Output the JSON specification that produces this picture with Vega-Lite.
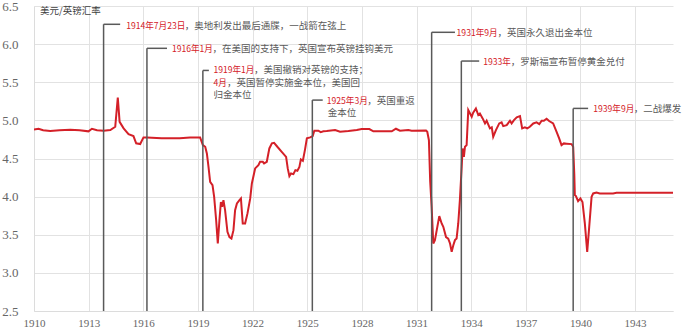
{
  "$schema": "https://vega.github.io/schema/vega-lite/v6.json",
  "width": 639,
  "height": 305,
  "autosize": {"type": "none"},
  "padding": {"left": 34, "top": 6, "right": 19, "bottom": 19},
  "background": "white",
  "config": {
    "view": {"stroke": null},
    "axis": {
      "labelOverlap": false, "labelFlush": false, "labelBound": false,
      "grid": true, "gridColor": "#e2e2e2", "gridWidth": 1,
      "ticks": false, "tickSize": 0, "domain": true, "domainColor": "#dcdcdc",
      "labelFont": "Liberation Serif", "labelColor": "#666666"
    },
    "axisX": {"labelFontSize": 11, "labelPadding": 6},
    "axisY": {
      "labelFontSize": 13, "labelAlign": "right", "labelBaseline": "middle", "labelPadding": 16,
      "titleAngle": 0, "titleAlign": "left", "titleBaseline": "middle",
      "titleX": 5.6, "titleY": 4, "titleFont": "Noto Sans CJK SC", "titleFontSize": 9.5,
      "titleFontWeight": "normal", "titleColor": "#404040"
    }
  },
  "datasets": {
    "rate": [
      {"year": 1910.0, "rate": 4.88}, {"year": 1910.25, "rate": 4.89}, {"year": 1910.5, "rate": 4.87}, {"year": 1910.89, "rate": 4.86},
      {"year": 1911.4, "rate": 4.87}, {"year": 1911.99, "rate": 4.877}, {"year": 1912.5, "rate": 4.87}, {"year": 1912.99, "rate": 4.856},
      {"year": 1913.18, "rate": 4.89}, {"year": 1913.46, "rate": 4.87}, {"year": 1913.82, "rate": 4.865}, {"year": 1914.19, "rate": 4.873},
      {"year": 1914.46, "rate": 4.916}, {"year": 1914.6, "rate": 5.3}, {"year": 1914.7, "rate": 4.98}, {"year": 1914.92, "rate": 4.895},
      {"year": 1915.19, "rate": 4.82}, {"year": 1915.46, "rate": 4.794}, {"year": 1915.61, "rate": 4.7}, {"year": 1915.83, "rate": 4.69},
      {"year": 1916.01, "rate": 4.777}, {"year": 1916.2, "rate": 4.777}, {"year": 1917.0, "rate": 4.765}, {"year": 1918.0, "rate": 4.765},
      {"year": 1918.57, "rate": 4.777}, {"year": 1919.12, "rate": 4.777}, {"year": 1919.27, "rate": 4.676}, {"year": 1919.4, "rate": 4.654},
      {"year": 1919.49, "rate": 4.567}, {"year": 1919.58, "rate": 4.39}, {"year": 1919.67, "rate": 4.194}, {"year": 1919.8, "rate": 4.15},
      {"year": 1919.89, "rate": 3.997}, {"year": 1920.0, "rate": 3.69}, {"year": 1920.09, "rate": 3.386}, {"year": 1920.18, "rate": 3.69},
      {"year": 1920.26, "rate": 3.93}, {"year": 1920.33, "rate": 3.866}, {"year": 1920.4, "rate": 3.954}, {"year": 1920.49, "rate": 3.823},
      {"year": 1920.62, "rate": 3.538}, {"year": 1920.73, "rate": 3.47}, {"year": 1920.84, "rate": 3.45}, {"year": 1920.95, "rate": 3.56},
      {"year": 1921.04, "rate": 3.823}, {"year": 1921.14, "rate": 3.91}, {"year": 1921.28, "rate": 3.954}, {"year": 1921.36, "rate": 3.976},
      {"year": 1921.46, "rate": 3.648}, {"year": 1921.59, "rate": 3.648}, {"year": 1921.72, "rate": 3.78}, {"year": 1921.87, "rate": 3.976},
      {"year": 1921.96, "rate": 4.173}, {"year": 1922.14, "rate": 4.37}, {"year": 1922.32, "rate": 4.413}, {"year": 1922.41, "rate": 4.457},
      {"year": 1922.56, "rate": 4.457}, {"year": 1922.63, "rate": 4.436}, {"year": 1922.78, "rate": 4.457}, {"year": 1922.92, "rate": 4.632},
      {"year": 1923.06, "rate": 4.698}, {"year": 1923.18, "rate": 4.706}, {"year": 1923.36, "rate": 4.654}, {"year": 1923.6, "rate": 4.588},
      {"year": 1923.84, "rate": 4.522}, {"year": 1923.93, "rate": 4.37}, {"year": 1924.02, "rate": 4.269}, {"year": 1924.11, "rate": 4.304},
      {"year": 1924.24, "rate": 4.295}, {"year": 1924.35, "rate": 4.348}, {"year": 1924.46, "rate": 4.34}, {"year": 1924.57, "rate": 4.39},
      {"year": 1924.65, "rate": 4.488}, {"year": 1924.76, "rate": 4.47}, {"year": 1924.88, "rate": 4.62}, {"year": 1924.98, "rate": 4.764},
      {"year": 1925.16, "rate": 4.777}, {"year": 1925.3, "rate": 4.794}, {"year": 1925.39, "rate": 4.864}, {"year": 1925.61, "rate": 4.864},
      {"year": 1925.74, "rate": 4.846}, {"year": 1925.89, "rate": 4.856}, {"year": 1926.07, "rate": 4.86}, {"year": 1926.53, "rate": 4.873},
      {"year": 1926.8, "rate": 4.85}, {"year": 1927.26, "rate": 4.86}, {"year": 1927.72, "rate": 4.873}, {"year": 1927.99, "rate": 4.886},
      {"year": 1928.41, "rate": 4.886}, {"year": 1928.63, "rate": 4.856}, {"year": 1929.64, "rate": 4.856}, {"year": 1929.87, "rate": 4.89},
      {"year": 1930.09, "rate": 4.864}, {"year": 1930.55, "rate": 4.873}, {"year": 1930.73, "rate": 4.864}, {"year": 1931.52, "rate": 4.868},
      {"year": 1931.59, "rate": 4.85}, {"year": 1931.68, "rate": 4.74}, {"year": 1931.75, "rate": 4.2}, {"year": 1931.83, "rate": 3.866},
      {"year": 1931.92, "rate": 3.386}, {"year": 1932.01, "rate": 3.43}, {"year": 1932.11, "rate": 3.56}, {"year": 1932.25, "rate": 3.744},
      {"year": 1932.38, "rate": 3.648}, {"year": 1932.47, "rate": 3.604}, {"year": 1932.62, "rate": 3.47}, {"year": 1932.74, "rate": 3.45},
      {"year": 1932.84, "rate": 3.386}, {"year": 1932.93, "rate": 3.276}, {"year": 1933.02, "rate": 3.363}, {"year": 1933.11, "rate": 3.43},
      {"year": 1933.2, "rate": 3.45}, {"year": 1933.29, "rate": 3.648}, {"year": 1933.38, "rate": 3.954}, {"year": 1933.48, "rate": 4.39},
      {"year": 1933.53, "rate": 4.632}, {"year": 1933.6, "rate": 4.522}, {"year": 1933.66, "rate": 4.654}, {"year": 1933.75, "rate": 4.676},
      {"year": 1933.84, "rate": 5.135}, {"year": 1934.03, "rate": 5.047}, {"year": 1934.11, "rate": 5.1}, {"year": 1934.26, "rate": 5.157},
      {"year": 1934.39, "rate": 5.07}, {"year": 1934.48, "rate": 5.09}, {"year": 1934.63, "rate": 5.026}, {"year": 1934.76, "rate": 4.96},
      {"year": 1934.85, "rate": 4.995}, {"year": 1935.03, "rate": 4.895}, {"year": 1935.13, "rate": 4.908}, {"year": 1935.21, "rate": 4.786},
      {"year": 1935.36, "rate": 4.873}, {"year": 1935.54, "rate": 4.96}, {"year": 1935.67, "rate": 4.974}, {"year": 1935.76, "rate": 4.925},
      {"year": 1935.95, "rate": 4.938}, {"year": 1936.13, "rate": 4.995}, {"year": 1936.22, "rate": 4.96}, {"year": 1936.35, "rate": 5.004},
      {"year": 1936.5, "rate": 5.04}, {"year": 1936.68, "rate": 5.056}, {"year": 1936.8, "rate": 4.895}, {"year": 1936.95, "rate": 4.908},
      {"year": 1937.08, "rate": 4.895}, {"year": 1937.22, "rate": 4.916}, {"year": 1937.41, "rate": 4.96}, {"year": 1937.59, "rate": 4.974},
      {"year": 1937.74, "rate": 4.951}, {"year": 1937.87, "rate": 4.995}, {"year": 1937.99, "rate": 4.995}, {"year": 1938.14, "rate": 5.021},
      {"year": 1938.28, "rate": 4.991}, {"year": 1938.5, "rate": 4.96}, {"year": 1938.69, "rate": 4.85}, {"year": 1938.83, "rate": 4.764},
      {"year": 1938.96, "rate": 4.676}, {"year": 1939.09, "rate": 4.698}, {"year": 1939.24, "rate": 4.695}, {"year": 1939.51, "rate": 4.689},
      {"year": 1939.6, "rate": 4.654}, {"year": 1939.66, "rate": 4.3}, {"year": 1939.69, "rate": 4.02}, {"year": 1939.75, "rate": 4.007},
      {"year": 1939.87, "rate": 3.94}, {"year": 1940.0, "rate": 3.976}, {"year": 1940.11, "rate": 3.93}, {"year": 1940.24, "rate": 3.648},
      {"year": 1940.37, "rate": 3.276}, {"year": 1940.48, "rate": 3.604}, {"year": 1940.61, "rate": 3.997}, {"year": 1940.7, "rate": 4.042},
      {"year": 1940.88, "rate": 4.055}, {"year": 1941.06, "rate": 4.042}, {"year": 1941.79, "rate": 4.042}, {"year": 1941.98, "rate": 4.05},
      {"year": 1945.08, "rate": 4.05}
    ],
    "segments": [
      {"x1": 1913.82, "y1": 2.5, "x2": 1913.82, "y2": 6.26},
      {"x1": 1913.82, "y1": 6.26, "x2": 1914.73, "y2": 6.26},
      {"x1": 1916.2, "y1": 2.5, "x2": 1916.2, "y2": 5.945},
      {"x1": 1916.2, "y1": 5.945, "x2": 1917.3, "y2": 5.945},
      {"x1": 1919.27, "y1": 2.5, "x2": 1919.27, "y2": 5.655},
      {"x1": 1919.27, "y1": 5.655, "x2": 1919.6, "y2": 5.655},
      {"x1": 1925.28, "y1": 2.5, "x2": 1925.28, "y2": 5.266},
      {"x1": 1925.28, "y1": 5.266, "x2": 1925.85, "y2": 5.266},
      {"x1": 1931.83, "y1": 2.5, "x2": 1931.83, "y2": 6.155},
      {"x1": 1931.83, "y1": 6.155, "x2": 1933.11, "y2": 6.155},
      {"x1": 1933.46, "y1": 2.5, "x2": 1933.46, "y2": 5.778},
      {"x1": 1933.46, "y1": 5.778, "x2": 1934.44, "y2": 5.778},
      {"x1": 1939.6, "y1": 2.5, "x2": 1939.6, "y2": 5.157},
      {"x1": 1939.6, "y1": 5.157, "x2": 1940.42, "y2": 5.157}
    ],
    "redNotes": [
      {"x": 1915.06, "y": 6.241, "text": "1914年7月23日"},
      {"x": 1917.57, "y": 5.932, "text": "1916年1月"},
      {"x": 1919.85, "y": 5.655, "text": "1919年1月"},
      {"x": 1919.85, "y": 5.49, "text": "4月"},
      {"x": 1926.07, "y": 5.259, "text": "1925年3月"},
      {"x": 1933.2, "y": 6.142, "text": "1931年9月"},
      {"x": 1934.66, "y": 5.769, "text": "1933年"},
      {"x": 1940.7, "y": 5.144, "text": "1939年9月"}
    ],
    "greyNotes": [
      {"x": 1918.27, "y": 6.241, "text": "，奥地利发出最后通牒，一战箭在弦上"},
      {"x": 1919.8, "y": 5.932, "text": "，在美国的支持下，英国宣布英镑挂钩美元"},
      {"x": 1922.08, "y": 5.655, "text": "，美国撤销对英镑的支持；"},
      {"x": 1920.6, "y": 5.49, "text": "，英国暂停实施金本位，美国回"},
      {"x": 1919.85, "y": 5.332, "text": "归金本位"},
      {"x": 1928.3, "y": 5.259, "text": "，英国重返"},
      {"x": 1926.12, "y": 5.099, "text": "金本位"},
      {"x": 1935.44, "y": 6.142, "text": "，英国永久退出金本位"},
      {"x": 1936.17, "y": 5.769, "text": "，罗斯福宣布暂停黄金兑付"},
      {"x": 1942.93, "y": 5.144, "text": "，二战爆发"}
    ]
  },
  "layer": [
    {
      "data": {"name": "rate"},
      "mark": {"type": "line", "color": "#d42028", "strokeWidth": 2, "clip": true},
      "encoding": {
        "x": {
          "field": "year", "type": "quantitative",
          "scale": {"domain": [1910, 1945.08], "nice": false, "zero": false},
          "axis": {
            "values": [1910, 1913, 1916, 1919, 1922, 1925, 1928, 1931, 1934, 1937, 1940, 1943],
            "format": "d", "title": null
          }
        },
        "y": {
          "field": "rate", "type": "quantitative",
          "scale": {"domain": [2.5, 6.5], "nice": false, "zero": false},
          "axis": {
            "tickCount": 8,
            "labelExpr": "format(datum.value, '.1f')", "title": "美元/英镑汇率"
          }
        }
      }
    },
    {
      "data": {"name": "segments"},
      "mark": {"type": "rule", "color": "#595959", "strokeWidth": 1.5},
      "encoding": {
        "x": {"field": "x1", "type": "quantitative"},
        "y": {"field": "y1", "type": "quantitative"},
        "x2": {"field": "x2"},
        "y2": {"field": "y2"}
      }
    },
    {
      "data": {"name": "greyNotes"},
      "mark": {"type": "text", "align": "left", "baseline": "middle", "font": "Noto Sans CJK SC", "fontSize": 9.5, "color": "#595959"},
      "encoding": {
        "x": {"field": "x", "type": "quantitative"},
        "y": {"field": "y", "type": "quantitative"},
        "text": {"field": "text"}
      }
    },
    {
      "data": {"name": "redNotes"},
      "mark": {"type": "text", "align": "left", "baseline": "middle", "font": "Noto Sans CJK SC", "fontSize": 8.6, "color": "#d42028"},
      "encoding": {
        "x": {"field": "x", "type": "quantitative"},
        "y": {"field": "y", "type": "quantitative"},
        "text": {"field": "text"}
      }
    }
  ]
}
